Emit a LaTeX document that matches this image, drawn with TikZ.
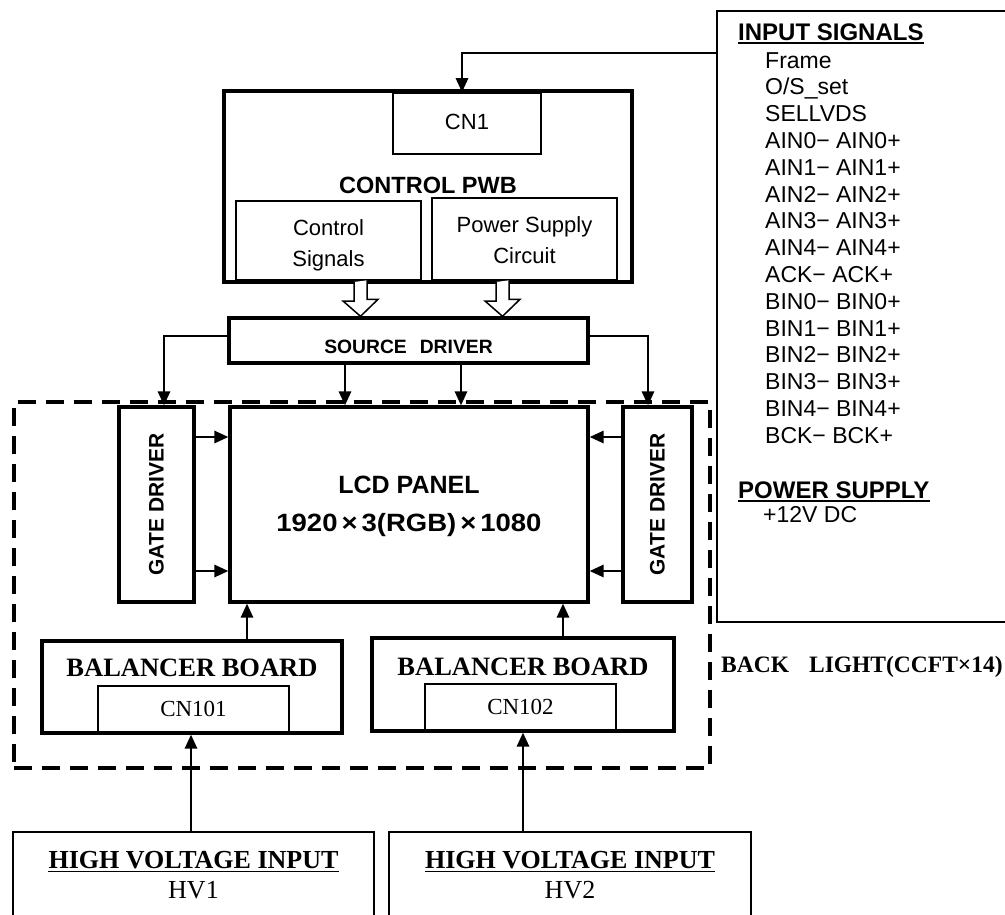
\documentclass[tikz,border=0pt]{standalone}
\usepackage{fontspec}
\setmainfont{Liberation Serif}
\newfontfamily\gothic{Liberation Sans}
\newfontfamily\gothicw[FakeStretch=1.1]{Liberation Sans}
\usetikzlibrary{arrows.meta}
\newcommand{\gsz}[1]{\gothic\fontsize{#1}{#1}\selectfont}
\newcommand{\gwsz}[1]{\gothicw\fontsize{#1}{#1}\selectfont}
\newcommand{\rsz}[1]{\fontsize{#1}{#1}\selectfont}
\begin{document}
\begin{tikzpicture}[x=1pt,y=-1pt,
  tk/.style={draw, line width=3.4pt, inner sep=0pt},
  tn/.style={draw, line width=1.8pt, inner sep=0pt},
  th/.style={draw, line width=1.5pt, inner sep=0pt},
  lbl/.style={inner sep=0pt, anchor=base},
  lblw/.style={inner sep=0pt, anchor=base west},
  arr/.style={line width=1.6pt, -{Triangle[length=14pt,width=12.5pt]}},
  hollow/.style={line width=1.5pt, fill=white, line join=miter},
  dbox/.style={draw, line width=3.5pt, dash pattern=on 18pt off 10pt, inner sep=0pt},
  ul/.style={line width=1.8pt}]
\useasboundingbox (0,0) rectangle (1005,914);
\clip (0,0) rectangle (1005,914);

% boxes
\node[dbox, minimum width=696pt, minimum height=366pt] (bl) at (362,585) {};
\node[tk, minimum width=408pt, minimum height=191pt] (pwb) at (428,186.5) {};
\node[tn, minimum width=148pt, minimum height=61pt] (cn1) at (467,123.5) {};
\node[tn, minimum width=185pt, minimum height=79pt] (ctrl) at (328.5,240.5) {};
\node[tn, minimum width=185pt, minimum height=82pt] (psc) at (524.5,239) {};
\node[tk, minimum width=359pt, minimum height=45pt] (src) at (408.5,340.5) {};
\node[tk, minimum width=75pt, minimum height=195pt] (gdl) at (156.5,504.5) {};
\node[tk, minimum width=358pt, minimum height=195pt] (lcd) at (409,504.5) {};
\node[tk, minimum width=69pt, minimum height=195pt] (gdr) at (657.5,504.5) {};
\node[tk, minimum width=300pt, minimum height=92pt] (bbl) at (192,687) {};
\node[tn, minimum width=191pt, minimum height=47pt] (cn101) at (193.5,709.5) {};
\node[tk, minimum width=302pt, minimum height=93pt] (bbr) at (523,684.5) {};
\node[tn, minimum width=191pt, minimum height=47pt] (cn102) at (520.5,707.5) {};
\node[th, minimum width=361pt, minimum height=128pt] (hv1) at (193.5,896) {};
\node[th, minimum width=362pt, minimum height=128pt] (hv2) at (570,896) {};
\node[th, minimum width=323pt, minimum height=611pt] (inb) at (878.5,316.5) {};

% texts in boxes
\node[lbl] (cn1t) at (467,129) {\gsz{22}CN1};
\node[lbl] (pwbt) at (428,193) {\gsz{23.5}\bfseries CONTROL PWB};
\node[lbl] (ctrla) at (328.5,235) {\gsz{22}Control};
\node[lbl] (ctrlb) at (328.5,266) {\gsz{22}Signals};
\node[lbl] (psca) at (524.5,232) {\gsz{22}Power Supply};
\node[lbl] (pscb) at (524.5,263) {\gsz{22}Circuit};
\node[lbl] (srct) at (408.5,353) {\gsz{19.3}\bfseries SOURCE\hspace{13pt}DRIVER};
\node[inner sep=0pt, rotate=90] (gdlt) at (gdl.center) {\gsz{21}\bfseries GATE DRIVER};
\node[inner sep=0pt, rotate=90] (gdrt) at (gdr.center) {\gsz{21}\bfseries GATE DRIVER};
\node[lbl] (lcda) at (409,493) {\gsz{25}\bfseries LCD PANEL};
\node[lbl] (lcdb) at (409,531) {\gwsz{25}\bfseries 1920\hspace{4pt}×\hspace{4pt}3(RGB)\hspace{4pt}×\hspace{4pt}1080};
\node[lbl] (bblt) at (192,676) {\rsz{26.5}\bfseries BALANCER BOARD};
\node[lbl] (bbrt) at (523,675) {\rsz{26.5}\bfseries BALANCER BOARD};
\node[lbl] (cn101t) at (193.5,716) {\rsz{23}CN101};
\node[lbl] (cn102t) at (520.5,714) {\rsz{23}CN102};
\node[lbl] (hv1a) at (193.5,868) {\rsz{26}\bfseries HIGH VOLTAGE INPUT};
\node[lbl] (hv1b) at (193.5,898) {\rsz{26}HV1};
\node[lbl] (hv2a) at (570,868) {\rsz{26}\bfseries HIGH VOLTAGE INPUT};
\node[lbl] (hv2b) at (570,898) {\rsz{26}HV2};
\draw[ul] ([yshift=-3.5pt]hv1a.base west) -- ([yshift=-3.5pt]hv1a.base east);
\draw[ul] ([yshift=-3.5pt]hv2a.base west) -- ([yshift=-3.5pt]hv2a.base east);
\node[lblw] (blt) at (721,672) {\rsz{23.5}\bfseries BACK\hspace{20pt}LIGHT(CCFT×14)};

% input signals list
\node[lblw] (ins) at (738,40) {\gsz{24}\bfseries INPUT SIGNALS};
\draw[ul] ([yshift=-3pt]ins.base west) -- ([yshift=-3pt]ins.base east);
\foreach \t [count=\i from 0] in {Frame, O/S\_set, SELLVDS, AIN0− AIN0+, AIN1− AIN1+, AIN2− AIN2+, AIN3− AIN3+, AIN4− AIN4+, ACK− ACK+, BIN0− BIN0+, BIN1− BIN1+, BIN2− BIN2+, BIN3− BIN3+, BIN4− BIN4+, BCK− BCK+}
  \node[lblw] (sig\i) at (765,68+26.8*\i) {\gsz{23}\t};
\node[lblw] (pws) at (738,498) {\gsz{24}\bfseries POWER SUPPLY};
\draw[ul] ([yshift=-3pt]pws.base west) -- ([yshift=-3pt]pws.base east);
\node[lblw] (pwv) at (763,522) {\gsz{23}+12V DC};

% connectors
\draw[arr] ([yshift=-43pt]inb.north west) -| ([xshift=-5pt]cn1.north);
\coordinate (h1) at (360.5,282);
\coordinate (h2) at (502.5,282);
\foreach \h in {h1,h2}
  \draw[hollow] (\h) ++(-6.5,0) -- ++(0,19) -- ++(-11,0) -- (\h |- src.north) -- ++(17.5,-17) -- ++(-11,0) -- ++(0,-19);
\draw[arr] ([yshift=4.5pt]src.west) -| ([xshift=7.5pt]gdl.north);
\draw[arr] ([yshift=4.5pt]src.east) -| ([xshift=-9.5pt]gdr.north);
\draw[arr] ([xshift=-63.5pt]src.south) -- ([xshift=-63.5pt]src.south |- lcd.north);
\draw[arr] ([xshift=52.5pt]src.south) -- ([xshift=52.5pt]src.south |- lcd.north);
\draw[arr] ([yshift=67.5pt]gdl.east) -- ([yshift=67.5pt]gdl.east -| lcd.west);
\draw[arr] ([yshift=-66.5pt]gdl.east) -- ([yshift=-66.5pt]gdl.east -| lcd.west);
\draw[arr] ([yshift=67.5pt]gdr.west) -- ([yshift=67.5pt]gdr.west -| lcd.east);
\draw[arr] ([yshift=-66.5pt]gdr.west) -- ([yshift=-66.5pt]gdr.west -| lcd.east);
\draw[arr] ([xshift=55pt]bbl.north) -- ([xshift=55pt]bbl.north |- lcd.south);
\draw[arr] ([xshift=40pt]bbr.north) -- ([xshift=40pt]bbr.north |- lcd.south);
\draw[arr] ([xshift=-2.5pt]hv1.north) -- ([xshift=-2.5pt]hv1.north |- bbl.south);
\draw[arr] ([xshift=-47pt]hv2.north) -- ([xshift=-47pt]hv2.north |- bbr.south);
\end{tikzpicture}
\end{document}
